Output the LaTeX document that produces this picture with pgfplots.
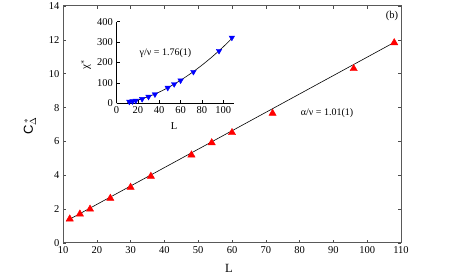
\documentclass[border=0pt]{standalone}
\usepackage{fontspec}
\setmainfont{Liberation Serif}
\newfontfamily\sansf{Liberation Sans}
\usepackage{pgfplots}
\pgfplotsset{compat=1.18}
\begin{document}
\begin{tikzpicture}
\path[use as bounding box] (0pt,0pt) rectangle (463pt,278pt);
\begin{axis}[name=main, at={(63pt,35pt)}, anchor=south west, scale only axis,
  width=338pt, height=237pt, xmin=10, xmax=110, ymin=0, ymax=14,
  xtick={10,20,...,110}, ytick={0,2,...,14},
  tick align=inside, major tick length=3pt,
  tick style={black!70, line width=0.6pt},
  axis line style={black!65, line width=1pt},
  ticklabel style={font=\fontsize{10.5}{12}\selectfont},
  /pgf/number format/assume math mode=true, clip=false]
\addplot[black, line width=0.6pt] coordinates {(11,1.3) (108,11.85)};
\addplot[only marks, mark=triangle*, mark size=4.2pt, color=red] coordinates {
(12,1.42) (15,1.71) (18,2.0) (24,2.64) (30,3.29) (36,3.94) (48,5.2) (54,5.92) (60,6.52) (72,7.66) (96,10.3) (108,11.83)};
\end{axis}
\begin{axis}[at={(116.5pt,174.7pt)}, anchor=south west, scale only axis,
  width=117.5pt, height=81.6pt, xmin=0, xmax=110, ymin=0, ymax=400,
  axis lines=left, axis line style={-, black, line width=0.7pt},
  xtick={0,20,...,100}, ytick={0,100,...,400},
  tick align=inside, major tick length=3pt,
  tick style={black, line width=0.6pt},
  ticklabel style={font=\fontsize{10.5}{12}\selectfont},
  /pgf/number format/assume math mode=true, clip=false]
\addplot[black, line width=0.6pt, smooth] coordinates {(10,5) (20,16) (30,33) (40,55) (50,82) (60,113) (70,148) (80,187) (90,230) (100,277) (108,318)};
\addplot[only marks, mark=triangle*, mark options={rotate=180}, mark size=3.2pt, color=blue] coordinates {
(12,8) (15,10) (18,13) (24,21) (30,32) (36,44) (48,76) (54,94) (60,112) (72,154) (96,257) (108,322)};
\end{axis}
\node[font=\fontsize{12.5}{14}\selectfont] at (229pt,10pt) {L};
\node[font=\fontsize{13}{15}\sansf, rotate=90] at (30pt,152pt) {C$_{\Delta}^{\,*}$};
\node[font=\fontsize{10.5}{12}\selectfont] at (174pt,152pt) {L};
\node[font=\fontsize{11}{13}\selectfont, rotate=90] at (86pt,213pt) {χ$^{*}$};
\node[font=\fontsize{10}{12}\selectfont] at (165.5pt,225pt) {γ/ν = 1.76(1)};
\node[font=\fontsize{10}{12}\selectfont] at (327pt,165pt) {α/ν = 1.01(1)};
\node[font=\fontsize{10.5}{12}\selectfont] at (392pt,262pt) {(b)};
\end{tikzpicture}
\end{document}
